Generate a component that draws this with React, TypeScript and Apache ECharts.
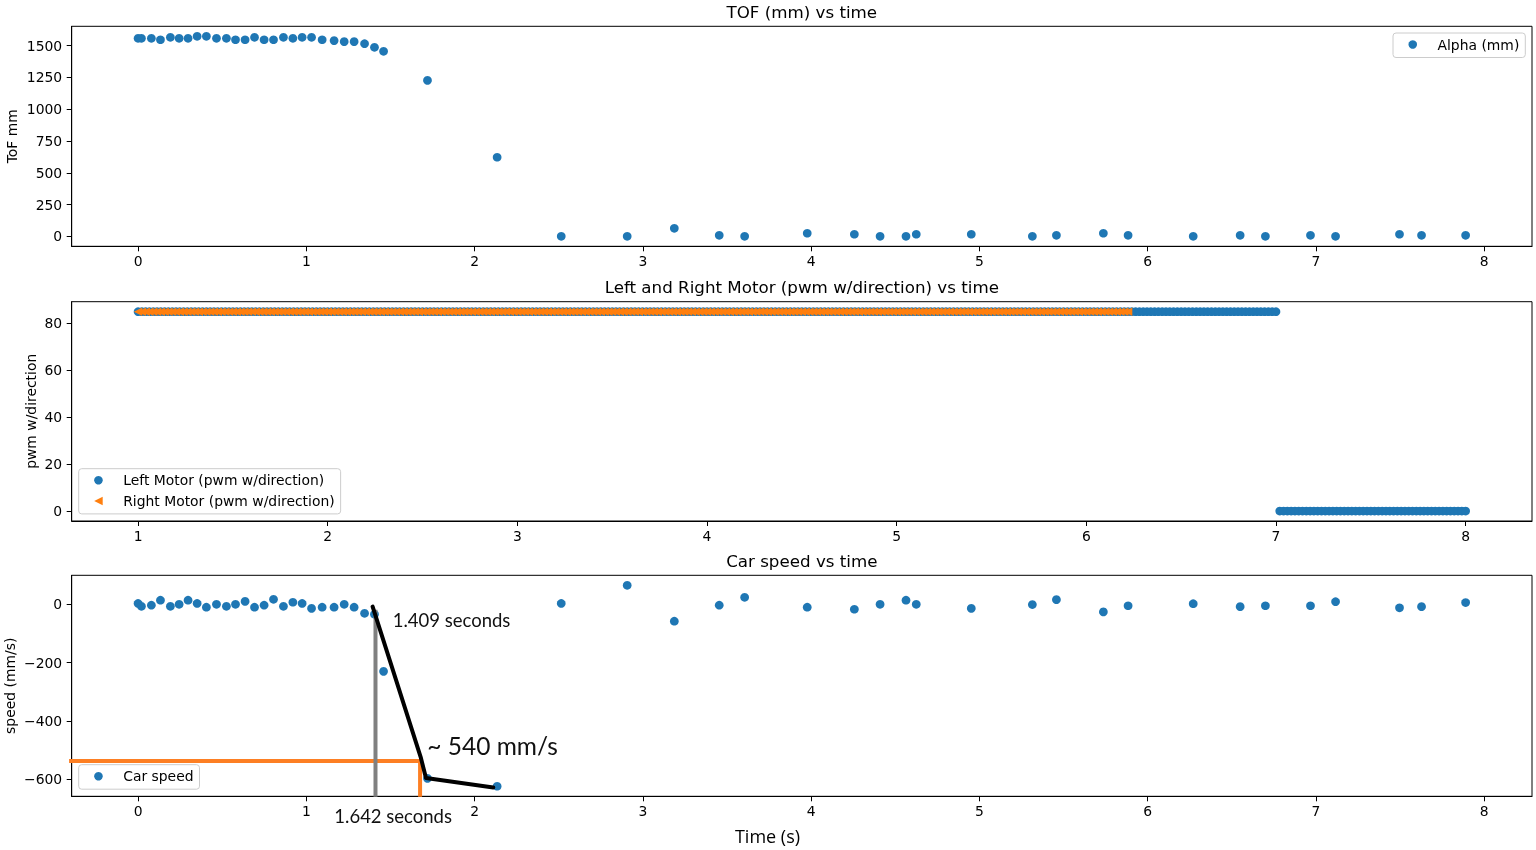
import React, { useEffect, useRef } from "react";
import * as echarts from "echarts";

// ---- TOF / speed samples (s) ----
const sampleTime = [
  0.0, 0.02, 0.079, 0.133, 0.192, 0.244, 0.297, 0.351, 0.406, 0.466,
  0.525, 0.579, 0.636, 0.692, 0.749, 0.805, 0.864, 0.92, 0.975, 1.031,
  1.094, 1.165, 1.225, 1.284, 1.346, 1.405, 1.459, 1.72, 2.134,
  2.515, 2.907, 3.187, 3.454, 3.605, 3.977, 4.257, 4.41, 4.564, 4.625, 4.952,
  5.315, 5.458, 5.737, 5.884, 6.271, 6.55, 6.7, 6.968, 7.117, 7.497, 7.628, 7.89,
];
const tofMm = [
  1558, 1558, 1558, 1547, 1566, 1558, 1558, 1574, 1574, 1558,
  1558, 1547, 1547, 1566, 1547, 1547, 1566, 1558, 1566, 1566,
  1547, 1540, 1532, 1532, 1516, 1487, 1456, 1227, 622,
  0, 0, 63, 8, 0, 24, 16, 0, 0, 16, 16,
  0, 8, 24, 8, 0, 8, 0, 8, 0, 16, 8, 8,
];
const carSpeed = [
  3, -7, -3, 14, -7, 0, 14, 3, -10, 0,
  -7, 0, 10, -10, -3, 17, -7, 7, 3, -14,
  -10, -10, 0, -10, -31, -34, -230, -597, -624,
  3, 65, -58, -3, 24, -10, -17, 0, 14, 0, -14,
  -1, 16, -26, -5, 2, -8, -5, -5, 9, -12, -8, 6,
];

// ---- motor log (s) ----
const motorTime = [
  1, 1.02, 1.04, 1.06, 1.08, 1.1, 1.12, 1.14, 1.16, 1.18, 1.2, 1.22, 1.24, 1.26, 1.28, 1.3, 1.32, 1.34, 1.36, 1.38, 1.4, 1.42, 1.44, 1.46, 1.48,
  1.5, 1.52, 1.54, 1.56, 1.58, 1.6, 1.62, 1.64, 1.66, 1.68, 1.7, 1.72, 1.74, 1.76, 1.78, 1.8, 1.82, 1.84, 1.86, 1.88, 1.9, 1.92, 1.94, 1.96, 1.98,
  2, 2.02, 2.04, 2.06, 2.08, 2.1, 2.12, 2.14, 2.16, 2.18, 2.2, 2.22, 2.24, 2.26, 2.28, 2.3, 2.32, 2.34, 2.36, 2.38, 2.4, 2.42, 2.44, 2.46, 2.48,
  2.5, 2.52, 2.54, 2.56, 2.58, 2.6, 2.62, 2.64, 2.66, 2.68, 2.7, 2.72, 2.74, 2.76, 2.78, 2.8, 2.82, 2.84, 2.86, 2.88, 2.9, 2.92, 2.94, 2.96, 2.98,
  3, 3.02, 3.04, 3.06, 3.08, 3.1, 3.12, 3.14, 3.16, 3.18, 3.2, 3.22, 3.24, 3.26, 3.28, 3.3, 3.32, 3.34, 3.36, 3.38, 3.4, 3.42, 3.44, 3.46, 3.48,
  3.5, 3.52, 3.54, 3.56, 3.58, 3.6, 3.62, 3.64, 3.66, 3.68, 3.7, 3.72, 3.74, 3.76, 3.78, 3.8, 3.82, 3.84, 3.86, 3.88, 3.9, 3.92, 3.94, 3.96, 3.98,
  4, 4.02, 4.04, 4.06, 4.08, 4.1, 4.12, 4.14, 4.16, 4.18, 4.2, 4.22, 4.24, 4.26, 4.28, 4.3, 4.32, 4.34, 4.36, 4.38, 4.4, 4.42, 4.44, 4.46, 4.48,
  4.5, 4.52, 4.54, 4.56, 4.58, 4.6, 4.62, 4.64, 4.66, 4.68, 4.7, 4.72, 4.74, 4.76, 4.78, 4.8, 4.82, 4.84, 4.86, 4.88, 4.9, 4.92, 4.94, 4.96, 4.98,
  5, 5.02, 5.04, 5.06, 5.08, 5.1, 5.12, 5.14, 5.16, 5.18, 5.2, 5.22, 5.24, 5.26, 5.28, 5.3, 5.32, 5.34, 5.36, 5.38, 5.4, 5.42, 5.44, 5.46, 5.48,
  5.5, 5.52, 5.54, 5.56, 5.58, 5.6, 5.62, 5.64, 5.66, 5.68, 5.7, 5.72, 5.74, 5.76, 5.78, 5.8, 5.82, 5.84, 5.86, 5.88, 5.9, 5.92, 5.94, 5.96, 5.98,
  6, 6.02, 6.04, 6.06, 6.08, 6.1, 6.12, 6.14, 6.16, 6.18, 6.2, 6.22, 6.24, 6.26, 6.28, 6.3, 6.32, 6.34, 6.36, 6.38, 6.4, 6.42, 6.44, 6.46, 6.48,
  6.5, 6.52, 6.54, 6.56, 6.58, 6.6, 6.62, 6.64, 6.66, 6.68, 6.7, 6.72, 6.74, 6.76, 6.78, 6.8, 6.82, 6.84, 6.86, 6.88, 6.9, 6.92, 6.94, 6.96, 6.98,
  7, 7.02, 7.04, 7.06, 7.08, 7.1, 7.12, 7.14, 7.16, 7.18, 7.2, 7.22, 7.24, 7.26, 7.28, 7.3, 7.32, 7.34, 7.36, 7.38, 7.4, 7.42, 7.44, 7.46, 7.48,
  7.5, 7.52, 7.54, 7.56, 7.58, 7.6, 7.62, 7.64, 7.66, 7.68, 7.7, 7.72, 7.74, 7.76, 7.78, 7.8, 7.82, 7.84, 7.86, 7.88, 7.9, 7.92, 7.94, 7.96, 7.98,
  8,
];
const leftMotor = [
  85, 85, 85, 85, 85, 85, 85, 85, 85, 85, 85, 85, 85, 85, 85, 85, 85, 85, 85, 85, 85, 85, 85, 85, 85,
  85, 85, 85, 85, 85, 85, 85, 85, 85, 85, 85, 85, 85, 85, 85, 85, 85, 85, 85, 85, 85, 85, 85, 85, 85,
  85, 85, 85, 85, 85, 85, 85, 85, 85, 85, 85, 85, 85, 85, 85, 85, 85, 85, 85, 85, 85, 85, 85, 85, 85,
  85, 85, 85, 85, 85, 85, 85, 85, 85, 85, 85, 85, 85, 85, 85, 85, 85, 85, 85, 85, 85, 85, 85, 85, 85,
  85, 85, 85, 85, 85, 85, 85, 85, 85, 85, 85, 85, 85, 85, 85, 85, 85, 85, 85, 85, 85, 85, 85, 85, 85,
  85, 85, 85, 85, 85, 85, 85, 85, 85, 85, 85, 85, 85, 85, 85, 85, 85, 85, 85, 85, 85, 85, 85, 85, 85,
  85, 85, 85, 85, 85, 85, 85, 85, 85, 85, 85, 85, 85, 85, 85, 85, 85, 85, 85, 85, 85, 85, 85, 85, 85,
  85, 85, 85, 85, 85, 85, 85, 85, 85, 85, 85, 85, 85, 85, 85, 85, 85, 85, 85, 85, 85, 85, 85, 85, 85,
  85, 85, 85, 85, 85, 85, 85, 85, 85, 85, 85, 85, 85, 85, 85, 85, 85, 85, 85, 85, 85, 85, 85, 85, 85,
  85, 85, 85, 85, 85, 85, 85, 85, 85, 85, 85, 85, 85, 85, 85, 85, 85, 85, 85, 85, 85, 85, 85, 85, 85,
  85, 85, 85, 85, 85, 85, 85, 85, 85, 85, 85, 85, 85, 85, 85, 85, 85, 85, 85, 85, 85, 85, 85, 85, 85,
  85, 85, 85, 85, 85, 85, 85, 85, 85, 85, 85, 85, 85, 85, 85, 85, 85, 85, 85, 85, 85, 85, 85, 85, 85,
  85, 0, 0, 0, 0, 0, 0, 0, 0, 0, 0, 0, 0, 0, 0, 0, 0, 0, 0, 0, 0, 0, 0, 0, 0,
  0, 0, 0, 0, 0, 0, 0, 0, 0, 0, 0, 0, 0, 0, 0, 0, 0, 0, 0, 0, 0, 0, 0, 0, 0,
  0,
];
const rightMotor = [
  85, 85, 85, 85, 85, 85, 85, 85, 85, 85, 85, 85, 85, 85, 85, 85, 85, 85, 85, 85, 85, 85, 85, 85, 85,
  85, 85, 85, 85, 85, 85, 85, 85, 85, 85, 85, 85, 85, 85, 85, 85, 85, 85, 85, 85, 85, 85, 85, 85, 85,
  85, 85, 85, 85, 85, 85, 85, 85, 85, 85, 85, 85, 85, 85, 85, 85, 85, 85, 85, 85, 85, 85, 85, 85, 85,
  85, 85, 85, 85, 85, 85, 85, 85, 85, 85, 85, 85, 85, 85, 85, 85, 85, 85, 85, 85, 85, 85, 85, 85, 85,
  85, 85, 85, 85, 85, 85, 85, 85, 85, 85, 85, 85, 85, 85, 85, 85, 85, 85, 85, 85, 85, 85, 85, 85, 85,
  85, 85, 85, 85, 85, 85, 85, 85, 85, 85, 85, 85, 85, 85, 85, 85, 85, 85, 85, 85, 85, 85, 85, 85, 85,
  85, 85, 85, 85, 85, 85, 85, 85, 85, 85, 85, 85, 85, 85, 85, 85, 85, 85, 85, 85, 85, 85, 85, 85, 85,
  85, 85, 85, 85, 85, 85, 85, 85, 85, 85, 85, 85, 85, 85, 85, 85, 85, 85, 85, 85, 85, 85, 85, 85, 85,
  85, 85, 85, 85, 85, 85, 85, 85, 85, 85, 85, 85, 85, 85, 85, 85, 85, 85, 85, 85, 85, 85, 85, 85, 85,
  85, 85, 85, 85, 85, 85, 85, 85, 85, 85, 85, 85, 85, 85, 85, 85, 85, 85, 85, 85, 85, 85, 85, 85, 85,
  85, 85, 85, 85, 85, 85, 85, 85, 85, 85, 85, 85,
];

// ---- tick labels ----
const tofXTicks = [0, 1, 2, 3, 4, 5, 6, 7, 8];
const tofYTicks = [0, 250, 500, 750, 1000, 1250, 1500];
const motorXTicks = [1, 2, 3, 4, 5, 6, 7, 8];
const motorYTicks = [0, 20, 40, 60, 80];
const speedXTicks = [0, 1, 2, 3, 4, 5, 6, 7, 8];
const speedYTicks = [-600, -400, -200, 0];

// ---- hand-drawn annotation (data coords on speed plot) ----
const accelLine = [[1.394, -8], [1.681, -527], [1.711, -596], [2.111, -628]];
const startMarker = [[1.411, -19], [1.411, -660]];
const endMarker = [[-0.41, -537], [1.676, -537], [1.676, -660]];

const BLUE = "#1f77b4";
const ORANGE = "#ff7f0e";
const FONT = "DejaVu Sans";
const NOTE_FONT = "Lato";
const LEFT_TRI = "path://M0,5L10,0L10,10Z";
const MARK = 8.7;

function padRange(vals: number[]) {
  const lo = Math.min(...vals);
  const hi = Math.max(...vals);
  const p = 0.05 * (hi - lo);
  return [lo - p, hi + p];
}

const minus = (v: number) => String(v).replace("-", "\u2212");

function xAxis(gridIndex: number, range: number[], ticks: number[]) {
  return {
    type: "value",
    gridIndex,
    min: range[0],
    max: range[1],
    axisLine: { show: true, onZero: false, lineStyle: { color: "#000", width: 1 } },
    axisTick: { show: true, length: 5, customValues: ticks, lineStyle: { color: "#000", width: 1 } },
    axisLabel: { customValues: ticks, color: "#000", fontFamily: FONT, fontSize: 13.9, margin: 8, formatter: minus },
    splitLine: { show: false },
  };
}
function yAxis(gridIndex: number, range: number[], ticks: number[]) {
  return {
    type: "value",
    gridIndex,
    min: range[0],
    max: range[1],
    axisLine: { show: true, onZero: false, lineStyle: { color: "#000", width: 1 } },
    axisTick: { show: true, length: 5, customValues: ticks, lineStyle: { color: "#000", width: 1 } },
    axisLabel: { customValues: ticks, color: "#000", fontFamily: FONT, fontSize: 13.9, margin: 9.5, formatter: minus },
    splitLine: { show: false },
  };
}

const legendBase = {
  itemWidth: 39.5,
  itemHeight: 8.5,
  padding: [4.5, 6, 6, 15.5],
  symbolRotate: 0,
  backgroundColor: "rgba(255,255,255,0.8)",
  borderColor: "#cccccc",
  borderWidth: 1,
  borderRadius: 3,
  selectedMode: false,
  textStyle: { fontFamily: FONT, fontSize: 13.9, color: "#000", lineHeight: 14 },
};

function txt(x: number, y: number, text: string, size: number, family: string, opts: any = {}) {
  return {
    type: "text",
    x,
    y,
    rotation: opts.rotation || 0,
    z: 100,
    style: {
      text,
      fontSize: size,
      fontFamily: family,
      fill: opts.fill || "#000",
      align: opts.align || "center",
      verticalAlign: "middle",
    },
  };
}

export default function App() {
  const ref = useRef<HTMLDivElement>(null);
  useEffect(() => {
    if (!ref.current) return;
    const chart = echarts.init(ref.current, undefined, { renderer: "svg" });

    const tofX = padRange(sampleTime);
    const tofY = padRange(tofMm);
    const motX = padRange(motorTime);
    const motY = padRange(leftMotor);
    const spdY = padRange(carSpeed);

    const gridCommon = { left: 71.7, width: 1460.3, show: true, borderColor: "#000", borderWidth: 1, containLabel: false };
    const dot = { color: BLUE, opacity: 1 };

    chart.setOption({
      animation: false,
      grid: [
        { ...gridCommon, top: 26.3, height: 220 },
        { ...gridCommon, top: 301.7, height: 219.3 },
        { ...gridCommon, top: 575.3, height: 221 },
      ],
      xAxis: [xAxis(0, tofX, tofXTicks), xAxis(1, motX, motorXTicks), xAxis(2, tofX, speedXTicks)],
      yAxis: [yAxis(0, tofY, tofYTicks), yAxis(1, motY, motorYTicks), yAxis(2, spdY, speedYTicks)],
      legend: [
        { ...legendBase, data: ["Alpha (mm)"], left: 1393, top: 33 },
        {
          ...legendBase,
          orient: "vertical",
          itemGap: 6.7,
          data: [
            { name: "Left Motor (pwm w/direction)", icon: "circle" },
            { name: "Right Motor (pwm w/direction)", icon: LEFT_TRI },
          ],
          left: 78.7,
          top: 468.7,
        },
        { ...legendBase, data: ["Car speed"], left: 78.7, top: 764.7 },
      ],
      series: [
        {
          type: "scatter",
          name: "Alpha (mm)",
          xAxisIndex: 0,
          yAxisIndex: 0,
          symbolSize: MARK,
          itemStyle: dot,
          data: sampleTime.map((t, i) => [t, tofMm[i]]),
        },
        {
          type: "scatter",
          name: "Left Motor (pwm w/direction)",
          xAxisIndex: 1,
          yAxisIndex: 1,
          symbolSize: MARK,
          itemStyle: dot,
          data: leftMotor.map((v, i) => [motorTime[i], v]),
        },
        {
          type: "scatter",
          name: "Right Motor (pwm w/direction)",
          xAxisIndex: 1,
          yAxisIndex: 1,
          symbol: "triangle",
          symbolRotate: 90,
          symbolSize: 8.5,
          itemStyle: { color: ORANGE, opacity: 1 },
          data: rightMotor.map((v, i) => [motorTime[i], v]),
        },
        {
          type: "scatter",
          name: "Car speed",
          xAxisIndex: 2,
          yAxisIndex: 2,
          symbolSize: MARK,
          itemStyle: dot,
          data: sampleTime.map((t, i) => [t, carSpeed[i]]),
        },
        {
          type: "line",
          name: "end marker",
          xAxisIndex: 2,
          yAxisIndex: 2,
          symbol: "none",
          clip: false,
          silent: true,
          z: 5,
          lineStyle: { color: "#fd7f23", width: 4, join: "miter" },
          data: endMarker,
        },
        {
          type: "line",
          name: "start marker",
          xAxisIndex: 2,
          yAxisIndex: 2,
          symbol: "none",
          clip: false,
          silent: true,
          z: 6,
          lineStyle: { color: "#808080", width: 4 },
          data: startMarker,
        },
        {
          type: "line",
          name: "accel",
          xAxisIndex: 2,
          yAxisIndex: 2,
          symbol: "none",
          clip: false,
          silent: true,
          z: 7,
          lineStyle: { color: "#000", width: 4, join: "round", cap: "round" },
          data: accelLine,
        },
      ],
      graphic: [
        txt(801.8, 11.7, "TOF (mm) vs time", 16.7, FONT),
        txt(801.8, 287.1, "Left and Right Motor (pwm w/direction) vs time", 16.7, FONT),
        txt(801.8, 560.7, "Car speed vs time", 16.7, FONT),
        txt(12.3, 136.3, "ToF mm", 13.9, FONT, { rotation: Math.PI / 2 }),
        txt(31.3, 411.3, "pwm w/direction", 13.9, FONT, { rotation: Math.PI / 2 }),
        txt(9.5, 685.8, "speed (mm/s)", 13.9, FONT, { rotation: Math.PI / 2 }),
        txt(767.5, 835.5, "Time (s)", 18, "Open Sans"),
        txt(392.7, 620, "1.409 seconds", 18.5, NOTE_FONT, { align: "left", fill: "#111" }),
        txt(427.3, 745.3, "~ 540 mm/s", 24.5, NOTE_FONT, { align: "left", fill: "#111" }),
        txt(334.3, 816, "1.642 seconds", 18.5, NOTE_FONT, { align: "left", fill: "#111" }),
      ],
    });
    return () => chart.dispose();
  }, []);
  return <div ref={ref} style={{ position: "fixed", left: 0, top: 0, width: 1536, height: 850 }} />;
}
